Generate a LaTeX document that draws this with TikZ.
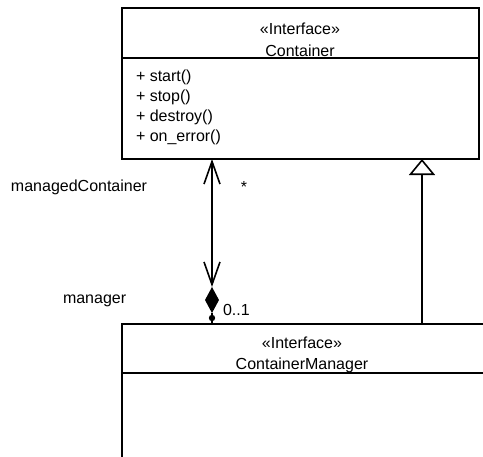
\documentclass[tikz,border=0pt]{standalone}
\usepackage{fontspec}
\setmainfont{Liberation Sans}
\usetikzlibrary{arrows.meta}

\tikzset{every picture/.style={line width=1.5pt}}
\tikzset{
  txt/.style={inner sep=0.75pt, font=\fontsize{12pt}{14pt}\selectfont},
  assoc/.style={{Straight Barb[length=17pt,width=12pt,line width=1.2pt]}-{Straight Barb[length=17pt,width=12pt,line width=1.2pt]}, line width=1.2pt},
  realize/.style={-{Triangle[open,length=12pt,width=19.5pt,line width=1.2pt]}, line width=1.2pt}
}

\begin{document}
\begin{tikzpicture}[x=0.75pt,y=0.75pt,yscale=-1,xscale=1]
\useasboundingbox (0,0) rectangle (483,457);

%Container box
\draw (122,8) rectangle (479,159);
\draw (122,58) -- (479,58);
\coordinate (assoc-top) at (212,159);
\coordinate (gen-tip) at (422,159);

%ContainerManager box (cut by the page)
\draw (490,324) -- (122,324) -- (122,457);
\draw (122,373) -- (490,373);
\coordinate (mgr-top) at (212,324);
\coordinate (gen-base) at (422,324);

%Association
\coordinate (assoc-bot) at (212,287);
\draw [assoc] (assoc-bot) -- (assoc-top) ;
\fill (assoc-bot) -- ++(7,13) -- ++(-7,13) -- ++(-7,-13) -- cycle;
\fill (212,318) circle [radius=3.2];
\draw [line width=1.2pt] (212,313) -- (mgr-top) ;

%Realization
\draw [realize] (gen-base) -- (gen-tip) ;

% Text Node
\node [txt] (c-stereo) at (300,29) {«Interface»};
% Text Node
\node [txt] (c-name) at (300,51) {Container};
% Text Node
\node [txt, anchor=west] (op-start) at (134,77) {+ start()};
% Text Node
\node [txt, anchor=west] (op-stop) at (134,97) {+ stop()};
% Text Node
\node [txt, anchor=west] (op-destroy) at (134,117) {+ destroy()};
% Text Node
\node [txt, anchor=west] (op-error) at (134,137) {+ on\_error()};
% Text Node
\node [txt] (m-stereo) at (302,343) {«Interface»};
% Text Node
\node [txt] (m-name) at (302,365) {ContainerManager};
% Text Node
\node [txt, anchor=west] (role-managed) at (9,187) {managedContainer};
% Text Node
\node [txt] (mult-many) at (244,187) {*};
% Text Node
\node [txt, anchor=west] (role-manager) at (61,301) {manager};
% Text Node
\node [txt, anchor=west] (mult-one) at (221,310) {0..1};
\end{tikzpicture}
\end{document}
